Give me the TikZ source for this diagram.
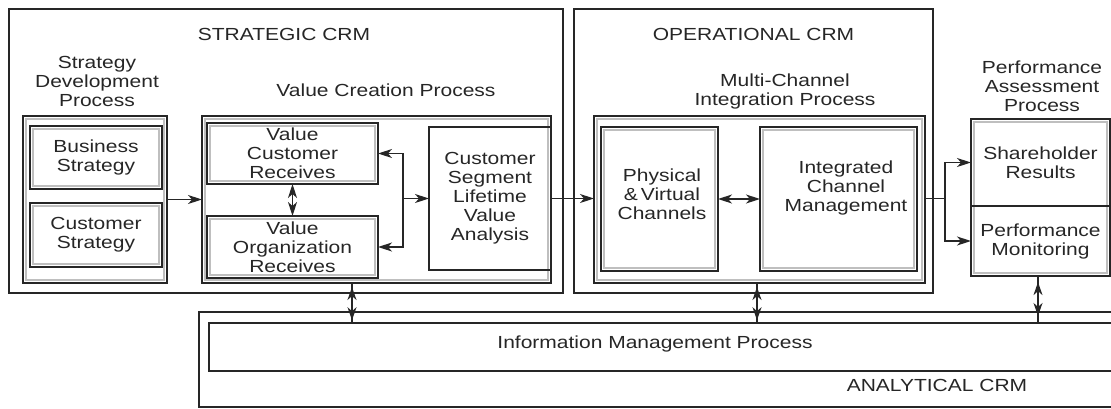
\documentclass[tikz,border=0pt]{standalone}
\usepackage{fontspec}
\setmainfont{Liberation Sans}[FakeStretch=1.2]
\usetikzlibrary{arrows.meta,decorations.markings}
\begin{document}
\begin{tikzpicture}[x=1pt,y=-1pt,
  font=\fontsize{17.5}{19}\selectfont,
  text=black!85,
  line width=1.4pt,
  bx/.style 2 args={draw=black!85, minimum width=#1pt, minimum height=#2pt,
    inner sep=0pt, outer sep=0pt, align=center},
  dbl/.style={path picture={\draw[gray!50,line width=1.8pt]
    ([shift={(2.7,2.7)}]path picture bounding box.north west) rectangle
    ([shift={(-2.7,-2.7)}]path picture bounding box.south east);}},
  lbl/.style={align=center, inner sep=0pt},
  tip/.tip={Stealth[length=14pt,width=9pt,inset=4pt]},
  arr/.style={-tip},
  darr/.style={tip-tip},
  vert/.style 2 args={postaction={decorate}, decoration={markings,
    mark=at position #1 with {\arrowreversed{Stealth[length=13pt,width=9pt,inset=4pt]}},
    mark=at position #2 with {\arrow{Stealth[length=13pt,width=9pt,inset=4pt]}}}}
]
\useasboundingbox (0,0) rectangle (1111,408);
\clip (0,0) rectangle (1111,408);

% outer CRM frames
\node[bx={554}{284}] (strat) at (286,151) {};
\node[bx={359}{284}] (oper) at (753.5,151) {};
\node[lbl] (stratt) at (284,34) {STRATEGIC CRM};
\node[lbl] (opert) at (753.5,34) {OPERATIONAL CRM};

% strategy development
\node[lbl] (sdpt) at (97,81) {Strategy\\Development\\Process};
\node[bx={144}{167},dbl] (sdp) at (95,199.5) {};
\node[bx={132}{63},dbl] (bs) at (96,157.5) {Business\\Strategy};
\node[bx={132}{64},dbl] (cs) at (96,235) {Customer\\Strategy};

% value creation
\node[lbl] (vcpt) at (386,90) {Value Creation Process};
\node[bx={349}{167},dbl] (vcp) at (376.5,199.5) {};
\node[bx={171}{61},dbl] (vcr) at (292.5,153.5) {Value\\Customer\\Receives};
\node[bx={171}{62},dbl] (vor) at (292.5,247) {Value\\Organization\\Receives};
\node[bx={122}{143}] (cslva) at (490,198.5) {Customer\\Segment\\Lifetime\\Value\\Analysis};

% multi-channel
\node[lbl] (mcpt) at (785,91) {Multi-Channel\\Integration Process};
\node[bx={331}{167},dbl] (mcp) at (759.5,199.5) {};
\node[bx={117}{144},dbl] (pvc) at (659.5,199) {};
\node[lbl] (pvct) at (662,194) {Physical\\\&\,Virtual\\Channels};
\node[bx={157}{144},dbl] (icm) at (838.5,199) {};
\node[lbl] (icmt) at (846,188) {Integrated\\Channel\\Management};

% performance assessment
\node[lbl] (pat) at (1042,86) {Performance\\Assessment\\Process};
\node[bx={139}{157},dbl] (pa) at (1040.5,197.5) {};
\node[minimum width=139pt, minimum height=87pt, inner sep=0pt, outer sep=0pt, align=center] (sr) at (1040.5,162.5) {Shareholder\\Results};
\node[minimum width=139pt, minimum height=70pt, inner sep=0pt, outer sep=0pt, align=center] (pm) at (1040.5,241) {Performance\\Monitoring};
\draw[black!85] (sr.south west) -- (sr.south east);

% analytical
\node[bx={926}{95}] (anal) at (662,359.5) {};
\node[bx={916}{48}] (im) at (667,347) {};
\node[lbl] (imt) at (655,344) {Information Management Process};
\node[lbl] (analt) at (937,385) {ANALYTICAL CRM};

% connectors
\draw[arr,black!85] (sdp.east) -- (vcp.west);
\draw[darr,black!85] (vcr.south) -- (vor.north);
\coordinate (br) at (403,198.5);
\draw[arr,black!85] (br) -- (cslva.west);
\draw[arr,black!85] (br) |- (vcr.east);
\draw[arr,black!85] (br) |- (vor.east);
\draw[arr,black!85] (cslva.east) -- (cslva.east -| mcp.west);
\draw[darr,black!85] (pvc.east) -- (icm.west);
\coordinate (fork) at (945,198.5);
\draw[black!85] (mcp.east |- fork) -- (fork);
\draw[arr,black!85] (fork) |- (sr.west);
\draw[arr,black!85] (fork) |- (pm.west);

\coordinate (a1) at (352,0);
\coordinate (a2) at (757,0);
\coordinate (a3) at (1038,0);
\draw[black!85,vert={0.1}{0.93}] (a1 |- vcp.south) -- (a1 |- im.north);
\draw[black!85,vert={0.1}{0.93}] (a2 |- mcp.south) -- (a2 |- im.north);
\draw[black!85,vert={0.13}{0.85}] (a3 |- pa.south) -- (a3 |- im.north);
\end{tikzpicture}
\end{document}
